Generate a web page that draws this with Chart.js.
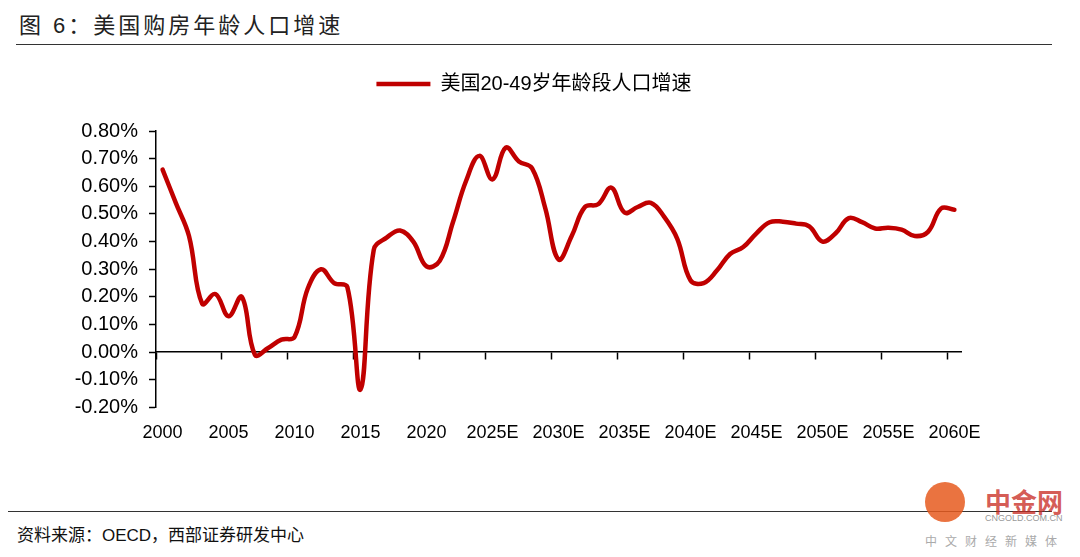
<!DOCTYPE html>
<html lang="zh-CN">
<head>
  <meta charset="UTF-8">
  <title>美国购房年龄人口增速</title>
  <script src="https://cdn.jsdelivr.net/npm/chart.js@4.4.1/dist/chart.umd.min.js"></script>
  <style>
    body { margin: 0; width: 1080px; height: 557px; background: #fff; position: relative; overflow: hidden;
           font-family: "Liberation Sans", "Noto Sans CJK SC", sans-serif; }
    #title { position: absolute; left: 19px; top: 7px; font-size: 22px; color: #222; letter-spacing: 3px; }
    #rule1 { position: absolute; left: 16px; top: 44px; width: 1036px; height: 0; border-top: 1.5px solid #333; }
    #rule2 { position: absolute; left: 8px; top: 511px; width: 1044px; height: 0; border-top: 1.5px solid #333; }
    #source { position: absolute; left: 17px; top: 521px; font-size: 17px; color: #111; }
    #box { position: absolute; left: 0; top: 50px; width: 1080px; height: 401px; }
    #wm1 { position: absolute; left: 985px; top: 482px; font-size: 26px; font-weight: bold; color: rgba(200,40,30,0.75); }
    #wm2 { position: absolute; left: 985px; top: 513px; font-size: 9px; color: #999; }
    #wm3 { position: absolute; left: 925px; top: 532px; font-size: 12px; color: #aaa; letter-spacing: 8px; }
    #wm0 { position: absolute; left: 925px; top: 482px; width: 40px; height: 40px; border-radius: 50%;
           background: rgba(230,90,30,0.85); }
  </style>
</head>
<body>
<div id="title">图 6：美国购房年龄人口增速</div>
<div id="rule1"></div>
<div id="box"><canvas id="chart"></canvas></div>
<div id="rule2"></div>
<div id="source">资料来源：OECD，西部证券研发中心</div>
<div id="wm0"></div>
<div id="wm1">中金网</div>
<div id="wm2">CNGOLD.COM.CN</div>
<div id="wm3">中文财经新媒体</div>

<script>
// years 2000-2060, forecasts from 2021 marked with E
const years = ['2000','2001','2002','2003','2004','2005','2006','2007','2008','2009',
  '2010','2011','2012','2013','2014','2015','2016','2017','2018','2019','2020',
  '2021E','2022E','2023E','2024E','2025E','2026E','2027E','2028E','2029E','2030E',
  '2031E','2032E','2033E','2034E','2035E','2036E','2037E','2038E','2039E','2040E',
  '2041E','2042E','2043E','2044E','2045E','2046E','2047E','2048E','2049E','2050E',
  '2051E','2052E','2053E','2054E','2055E','2056E','2057E','2058E','2059E','2060E'];

// growth rate, in %
const growth = [0.66, 0.54, 0.42, 0.175, 0.21, 0.13, 0.20, -0.01, 0.015, 0.045,
  0.055, 0.23, 0.30, 0.25, 0.235, -0.135, 0.37, 0.415, 0.44, 0.40, 0.31,
  0.33, 0.47, 0.62, 0.71, 0.625, 0.74, 0.69, 0.665, 0.52, 0.335,
  0.42, 0.525, 0.535, 0.595, 0.505, 0.525, 0.54, 0.49, 0.41, 0.26,
  0.25, 0.295, 0.355, 0.38, 0.43, 0.47, 0.472, 0.465, 0.455, 0.40,
  0.43, 0.485, 0.47, 0.447, 0.45, 0.443, 0.42, 0.435, 0.52, 0.515];

const yTicks = [-0.2, -0.1, 0, 0.1, 0.2, 0.3, 0.4, 0.5, 0.6, 0.7, 0.8];

const seriesName = '美国20-49岁年龄段人口增速';
const red = '#C00000';
const fontFamily = '"Liberation Sans", "Noto Sans CJK SC", sans-serif';

// push the chart area down below the legend
const legendGap = {
  id: 'legendGap',
  beforeInit(chart) {
    const fit = chart.legend.fit;
    chart.legend.fit = function () {
      fit.bind(this)();
      this.height += 27;
    };
  }
};

const ctx = document.getElementById('chart').getContext('2d');
const myChart = new Chart(ctx, {
  type: 'line',
  data: {
    labels: years,
    datasets: [{
      label: seriesName,
      data: growth,
      borderColor: red,
      backgroundColor: red,
      borderWidth: 4.5,
      borderCapStyle: 'round',
      pointRadius: 0,
      tension: 0.4,
      xAxisID: 'x',
      yAxisID: 'y'
    }]
  },
  options: {
    responsive: true,
    maintainAspectRatio: false,
    animation: false,
    layout: { padding: { left: 0, right: 12, top: 18, bottom: 0 } },
    plugins: {
      tooltip: { enabled: false },
      legend: {
        position: 'top',
        labels: {
          usePointStyle: true,
          pointStyle: 'line',
          pointStyleWidth: 54,
          color: '#000',
          padding: 6,
          font: { family: fontFamily, size: 20 }
        }
      }
    },
    scales: {
      // axis line on the zero value, with a tick every 5 years
      x: {
        type: 'category',
        position: { y: 0 },
        offset: true,
        border: { color: '#000', width: 1.5 },
        grid: {
          offset: true,
          drawOnChartArea: false,
          tickLength: 7,
          tickWidth: 1.5,
          tickColor: c => (c.index % 5 === 0 ? '#000' : 'rgba(0,0,0,0)')
        },
        ticks: { display: false }
      },
      // year labels along the bottom
      xl: {
        type: 'category',
        position: 'bottom',
        offset: true,
        border: { display: false },
        grid: { display: false },
        ticks: {
          autoSkip: false,
          maxRotation: 0,
          padding: 7,
          color: '#000',
          font: { family: fontFamily, size: 18 },
          callback: (v, i) => (i % 5 === 0 ? years[i] : '')
        }
      },
      y: {
        min: yTicks[0],
        max: yTicks[yTicks.length - 1],
        afterFit(scale) { scale.width = 156; },
        afterBuildTicks(scale) { scale.ticks = yTicks.map(v => ({ value: v })); },
        border: { color: '#000', width: 1.5 },
        grid: {
          drawOnChartArea: false,
          tickLength: 7,
          tickWidth: 1.5,
          tickColor: '#000'
        },
        ticks: {
          padding: 11,
          color: '#000',
          font: { family: fontFamily, size: 20 },
          callback: v => v.toFixed(2) + '%'
        }
      },
      // empty right-hand spacer so the plot ends where the original does
      yr: {
        position: 'right',
        min: 0,
        max: 1,
        afterFit(scale) { scale.width = 107; },
        border: { display: false },
        grid: { display: false },
        ticks: { display: false }
      }
    }
  },
  plugins: [legendGap]
});
</script>
</body>
</html>
